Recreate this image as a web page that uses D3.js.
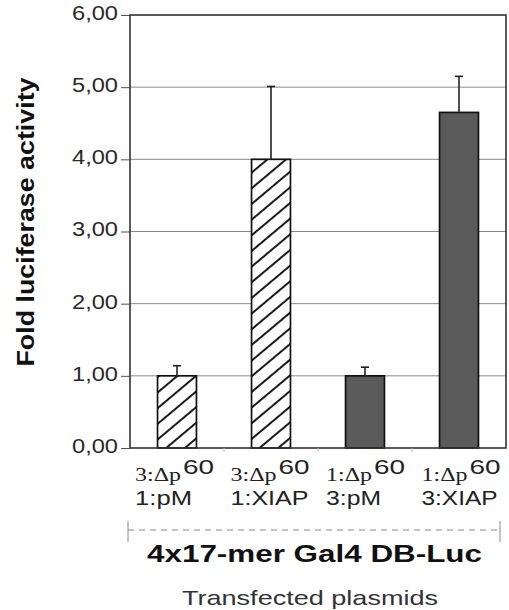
<!DOCTYPE html>
<html>
<head>
<meta charset="utf-8">
<script src="https://cdn.jsdelivr.net/npm/d3@7"></script>
<style>
  html, body { margin: 0; padding: 0; background: #fff; }
  svg { display: block; }
</style>
</head>
<body>
<svg id="chart"></svg>
<script>
const categories = ["a", "b", "c", "d"];
const line1 = ["3:\u0394p", "3:\u0394p", "1:\u0394p", "1:\u0394p"];
const line1Sup = ["60", "60", "60", "60"];
const line2 = ["1:pM", "1:XIAP", "3:pM", "3:XIAP"];
const values = [1.0, 4.0, 1.0, 4.65];
const errors = [0.14, 1.01, 0.12, 0.5];
const kinds = ["hatch", "hatch", "solid", "solid"];
const yTicks = [0, 1, 2, 3, 4, 5, 6];
const yTickLabels = ["0,00", "1,00", "2,00", "3,00", "4,00", "5,00", "6,00"];

const width = 509;
const height = 610;
const plot = { left: 130, right: 506, top: 15, bottom: 448 };

const svg = d3.select("#chart")
  .attr("width", width)
  .attr("height", height)
  .attr("viewBox", `0 0 ${width} ${height}`);

const x = d3.scaleBand()
  .domain(categories)
  .range([plot.left, plot.right])
  .paddingInner(0.586)
  .paddingOuter(0.293);

const y = d3.scaleLinear().domain([0, 6]).range([plot.bottom, plot.top]);

// hatch pattern
const defs = svg.append("defs");
const pat = defs.append("pattern")
  .attr("id", "hatch")
  .attr("patternUnits", "userSpaceOnUse")
  .attr("width", 12)
  .attr("height", 12)
  .attr("patternTransform", "rotate(-40)");
pat.append("rect").attr("width", 12).attr("height", 12).attr("fill", "#fff");
pat.append("line")
  .attr("x1", 0).attr("x2", 12)
  .attr("y1", 6).attr("y2", 6)
  .attr("stroke", "#000")
  .attr("stroke-width", 1.8);

// gridlines
svg.append("g")
  .selectAll("line")
  .data(yTicks.slice(1, -1))
  .join("line")
  .attr("x1", plot.left)
  .attr("x2", plot.right)
  .attr("y1", (d) => y(d))
  .attr("y2", (d) => y(d))
  .attr("stroke", "#8a8a8a")
  .attr("stroke-width", 1);

// y axis with outer ticks
const yAxis = d3.axisLeft(y)
  .tickValues(yTicks)
  .tickSize(9)
  .tickPadding(3)
  .tickFormat((d, i) => yTickLabels[i]);

const gy = svg.append("g")
  .attr("transform", `translate(${plot.left},0)`)
  .call(yAxis);
gy.select(".domain").remove();
gy.selectAll(".tick line").attr("stroke", "#555");
gy.selectAll(".tick text")
  .attr("font-family", "Liberation Sans, Arial, sans-serif")
  .attr("font-size", 20)
  .attr("fill", "#2a2a2a")
  .attr("dy", "0.22em")
  .attr("textLength", 46)
  .attr("lengthAdjust", "spacingAndGlyphs");

// bars
svg.append("g")
  .selectAll("rect")
  .data(categories)
  .join("rect")
  .attr("x", (d) => x(d))
  .attr("y", (d, i) => y(values[i]))
  .attr("width", x.bandwidth())
  .attr("height", (d, i) => y(0) - y(values[i]))
  .attr("fill", (d, i) => (kinds[i] === "hatch" ? "url(#hatch)" : "#5a5a5a"))
  .attr("stroke", "#111")
  .attr("stroke-width", 1.7);

// error bars
const eb = svg.append("g").attr("stroke", "#222").attr("stroke-width", 1.6);
eb.selectAll("line.v")
  .data(categories)
  .join("line")
  .attr("class", "v")
  .attr("x1", (d) => x(d) + x.bandwidth() / 2)
  .attr("x2", (d) => x(d) + x.bandwidth() / 2)
  .attr("y1", (d, i) => y(values[i]))
  .attr("y2", (d, i) => y(values[i] + errors[i]));
eb.selectAll("line.c")
  .data(categories)
  .join("line")
  .attr("class", "c")
  .attr("x1", (d) => x(d) + x.bandwidth() / 2 - 4)
  .attr("x2", (d) => x(d) + x.bandwidth() / 2 + 4)
  .attr("y1", (d, i) => y(values[i] + errors[i]))
  .attr("y2", (d, i) => y(values[i] + errors[i]));

// frame
svg.append("rect")
  .attr("x", plot.left)
  .attr("y", plot.top)
  .attr("width", plot.right - plot.left)
  .attr("height", plot.bottom - plot.top)
  .attr("fill", "none")
  .attr("stroke", "#333")
  .attr("stroke-width", 1.6);

// small category separators under the axis
svg.append("g")
  .selectAll("line")
  .data(categories.slice(1))
  .join("line")
  .attr("x1", (d) => x(d) - x.step() * 0.293)
  .attr("x2", (d) => x(d) - x.step() * 0.293)
  .attr("y1", plot.bottom)
  .attr("y2", plot.bottom + 4)
  .attr("stroke", "#bbb");

// x category labels
const line2Len = [57, 78, 55, 76];
const lab = svg.append("g");
categories.forEach((c, i) => {
  const cx = x(c) + x.bandwidth() / 2;
  const x0 = cx - 42 + i * 1.5;
  lab.append("text")
    .attr("x", x0)
    .attr("y", 481)
    .attr("font-family", "Liberation Serif, Times New Roman, serif")
    .attr("font-size", 19)
    .attr("fill", "#222")
    .attr("textLength", 46)
    .attr("lengthAdjust", "spacingAndGlyphs")
    .text(line1[i]);
  lab.append("text")
    .attr("x", x0 + 48)
    .attr("y", 474)
    .attr("font-family", "Liberation Sans, Arial, sans-serif")
    .attr("font-size", 20)
    .attr("fill", "#222")
    .attr("textLength", 31)
    .attr("lengthAdjust", "spacingAndGlyphs")
    .text(line1Sup[i]);
  lab.append("text")
    .attr("x", x0)
    .attr("y", 505)
    .attr("font-family", "Liberation Sans, Arial, sans-serif")
    .attr("font-size", 21)
    .attr("fill", "#222")
    .attr("textLength", line2Len[i])
    .attr("lengthAdjust", "spacingAndGlyphs")
    .text(line2[i]);
});

// bracket
const br = svg.append("g").attr("stroke", "#888").attr("stroke-width", 1);
br.append("line").attr("x1", 128).attr("x2", 500).attr("y1", 530).attr("y2", 530)
  .attr("stroke-dasharray", "6,5");
br.append("line").attr("x1", 128).attr("x2", 128).attr("y1", 521).attr("y2", 542);
br.append("line").attr("x1", 500).attr("x2", 500).attr("y1", 521).attr("y2", 542);

svg.append("text")
  .attr("x", 147)
  .attr("y", 562)
  .attr("font-family", "Liberation Sans, Arial, sans-serif")
  .attr("font-weight", "bold")
  .attr("font-size", 23)
  .attr("fill", "#111")
  .attr("textLength", 335)
  .attr("lengthAdjust", "spacingAndGlyphs")
  .text("4x17-mer Gal4 DB-Luc");

svg.append("text")
  .attr("x", 182)
  .attr("y", 605)
  .attr("font-family", "Liberation Sans, Arial, sans-serif")
  .attr("font-size", 21)
  .attr("fill", "#333")
  .attr("textLength", 256)
  .attr("lengthAdjust", "spacingAndGlyphs")
  .text("Transfected plasmids");

// y title
svg.append("text")
  .attr("transform", "translate(34,222) rotate(-90)")
  .attr("text-anchor", "middle")
  .attr("font-family", "Liberation Sans, Arial, sans-serif")
  .attr("font-weight", "bold")
  .attr("font-size", 24)
  .attr("fill", "#111")
  .attr("textLength", 289)
  .attr("lengthAdjust", "spacingAndGlyphs")
  .text("Fold luciferase activity");
</script>
</body>
</html>
